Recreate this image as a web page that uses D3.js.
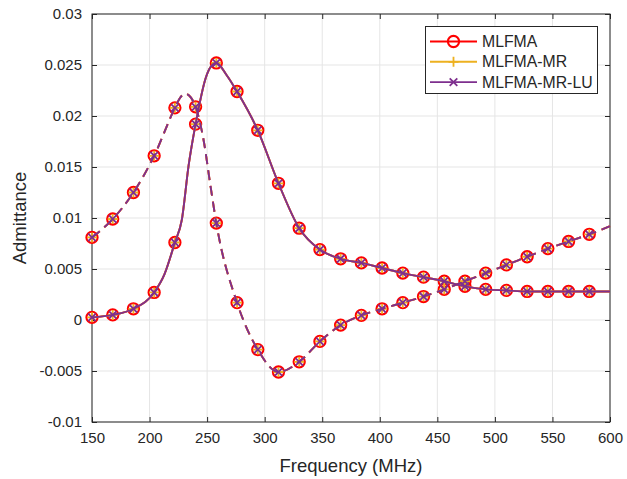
<!DOCTYPE html>
<html><head><meta charset="utf-8">
<script src="https://cdn.jsdelivr.net/npm/d3@7"></script>
<style>body{margin:0;background:#fff}svg{display:block}text{font-family:"Liberation Sans",Arial,Helvetica,sans-serif;fill:#262626}</style>
</head><body><svg id="c" width="627" height="479"></svg>
<script>
// ---- data ----
const markerFreq = [150,168,186,204,222,240,258,276,294,312,330,348,366,384,402,420,438,456,474,492,510,528,546,564,582];
const solidMarkers = [0.00026,0.0005,0.0011,0.0027,0.0076,0.0192,0.0252,0.0224,0.0186,0.0134,0.0090,0.0069,0.0060,0.0056,0.0051,0.0046,0.0042,0.0038,0.0033,0.0030,0.0029,0.0028,0.0028,0.0028,0.0028];
const dashedMarkers = [0.0081,0.0099,0.0125,0.0161,0.0208,0.0209,0.0095,0.0017,-0.0029,-0.0051,-0.0041,-0.0021,-0.0005,0.00045,0.0011,0.0017,0.0023,0.0030,0.0038,0.0046,0.0054,0.0062,0.0070,0.0077,0.0084];
// dense curve points
const solidCurveFreq = [150,168,186,204,213,222,228,234,240,249,253,258,267,276,294,312,330,348,366,384,402,420,438,456,474,492,510,528,546,564,582,600];
const solidCurveVal  = [0.00026,0.0005,0.0011,0.0027,0.0045,0.0076,0.0098,0.0152,0.0192,0.0238,0.0248,0.0252,0.0240,0.0224,0.0186,0.0134,0.0090,0.0069,0.0060,0.0056,0.0051,0.0046,0.0042,0.0038,0.0033,0.0030,0.0029,0.0028,0.0028,0.0028,0.0028,0.0028];
const dashedCurveFreq = [150,168,186,204,222,226,231,236,240,247,253,258,276,294,312,330,348,366,384,402,420,438,456,474,492,510,528,546,564,582,600];
const dashedCurveVal  = [0.0081,0.0099,0.0125,0.0161,0.0208,0.0217,0.0222,0.0218,0.0209,0.0176,0.0131,0.0095,0.0017,-0.0029,-0.0051,-0.0041,-0.0021,-0.0005,0.00045,0.0011,0.0017,0.0023,0.0030,0.0038,0.0046,0.0054,0.0062,0.0070,0.0077,0.0084,0.0092];
const xTicks = [150,200,250,300,350,400,450,500,550,600];
const yTicks = [-0.01,-0.005,0,0.005,0.01,0.015,0.02,0.025,0.03];
const yTickLabels = ["-0.01","-0.005","0","0.005","0.01","0.015","0.02","0.025","0.03"];
const seriesNames = ["MLFMA","MLFMA-MR","MLFMA-MR-LU"];
const seriesColors = ["#FF0000","#EDB120","#7E2F8E"];
const seriesMarkers = ["circle","plus","cross"];

// ---- layout ----
const L=92,R=610,T=14,B=422;
const svg=d3.select("#c");
const x=d3.scaleLinear().domain([150,600]).range([L,R]);
const y=d3.scaleLinear().domain([-0.01,0.03]).range([B,T]);
const axisCol="#262626";

// grid
const g=svg.append("g");
g.selectAll(".gx").data(xTicks).enter().append("line").attr("x1",d=>x(d)).attr("x2",d=>x(d)).attr("y1",T).attr("y2",B).attr("stroke","#e5e5e5").attr("stroke-width",1);
g.selectAll(".gy").data(yTicks).enter().append("line").attr("y1",d=>y(d)).attr("y2",d=>y(d)).attr("x1",L).attr("x2",R).attr("stroke","#e5e5e5").attr("stroke-width",1);

// axes
const fmtY=d=>yTickLabels[yTicks.indexOf(d)];
const xa=svg.append("g").attr("transform",`translate(0,${B})`).call(d3.axisBottom(x).tickValues(xTicks).tickSizeInner(-5).tickSizeOuter(0).tickPadding(10).tickFormat(d3.format("d")));
const ya=svg.append("g").attr("transform",`translate(${L},0)`).call(d3.axisLeft(y).tickValues(yTicks).tickSizeInner(-5).tickSizeOuter(0).tickPadding(10).tickFormat(fmtY));
const xt=svg.append("g").attr("transform",`translate(0,${T})`).call(d3.axisTop(x).tickValues(xTicks).tickSizeInner(-5).tickSizeOuter(0).tickFormat(""));
const yr=svg.append("g").attr("transform",`translate(${R},0)`).call(d3.axisRight(y).tickValues(yTicks).tickSizeInner(-5).tickSizeOuter(0).tickFormat(""));
[xa,ya,xt,yr].forEach(a=>{a.select(".domain").remove();a.selectAll("line").attr("stroke",axisCol);a.selectAll("text").attr("fill",axisCol).style("font-size","15px").style("font-family","'Liberation Sans',Arial,sans-serif");});
svg.append("rect").attr("x",L).attr("y",T).attr("width",R-L).attr("height",B-T).attr("fill","none").attr("stroke",axisCol).attr("stroke-width",1);

// labels
svg.append("text").attr("x",(L+R)/2).attr("y",472).attr("text-anchor","middle").style("font-size","18.5px").text("Frequency (MHz)");
svg.append("text").attr("transform",`translate(26,${(T+B)/2}) rotate(-90)`).attr("text-anchor","middle").style("font-size","18.5px").text("Admittance");

// plot
const plot=svg.append("g");
const line=d3.line().x(d=>x(d[0])).y(d=>y(d[1])).curve(d3.curveMonotoneX);
const solidPts=solidCurveFreq.map((f,i)=>[f,solidCurveVal[i]]);
const dashedPts=dashedCurveFreq.map((f,i)=>[f,dashedCurveVal[i]]);
const mS=markerFreq.map((f,i)=>[f,solidMarkers[i]]);
const mD=markerFreq.map((f,i)=>[f,dashedMarkers[i]]);

function drawMarker(sel,type,color,cx,cy){
  if(type==="circle"){sel.append("circle").attr("cx",cx).attr("cy",cy).attr("r",5.6).attr("fill","none").attr("stroke",color).attr("stroke-width",2.1);}
  else if(type==="plus"){const s=5;sel.append("path").attr("d",`M${cx-s},${cy}H${cx+s}M${cx},${cy-s}V${cy+s}`).attr("stroke",color).attr("stroke-width",1.8).attr("fill","none");}
  else {const s=3.8;sel.append("path").attr("d",`M${cx-s},${cy-s}L${cx+s},${cy+s}M${cx-s},${cy+s}L${cx+s},${cy-s}`).attr("stroke",color).attr("stroke-width",1.8).attr("fill","none");}
}
seriesNames.forEach((n,si)=>{
  const c=seriesColors[si];
  const gs=plot.append("g");
  gs.append("path").attr("d",line(solidPts)).attr("fill","none").attr("stroke",c).attr("stroke-width",1.9);
  gs.append("path").attr("d",line(dashedPts)).attr("fill","none").attr("stroke",c).attr("stroke-width",1.9).attr("stroke-dasharray","10,6");
  mS.concat(mD).forEach(p=>drawMarker(gs,seriesMarkers[si],c,x(p[0]),y(p[1])));
});

// legend
const lg=svg.append("g");
lg.append("rect").attr("x",425.5).attr("y",26.5).attr("width",172).attr("height",67).attr("fill","#fff").attr("stroke",axisCol).attr("stroke-width",1);
seriesNames.forEach((n,i)=>{
  const cy=41.5+i*20.3;
  lg.append("line").attr("x1",430).attr("x2",477).attr("y1",cy).attr("y2",cy).attr("stroke",seriesColors[i]).attr("stroke-width",1.9);
  drawMarker(lg,seriesMarkers[i],seriesColors[i],453.5,cy);
  lg.append("text").attr("x",482).attr("y",cy+5.5).style("font-size","15.8px").text(n);
});
</script></body></html>
